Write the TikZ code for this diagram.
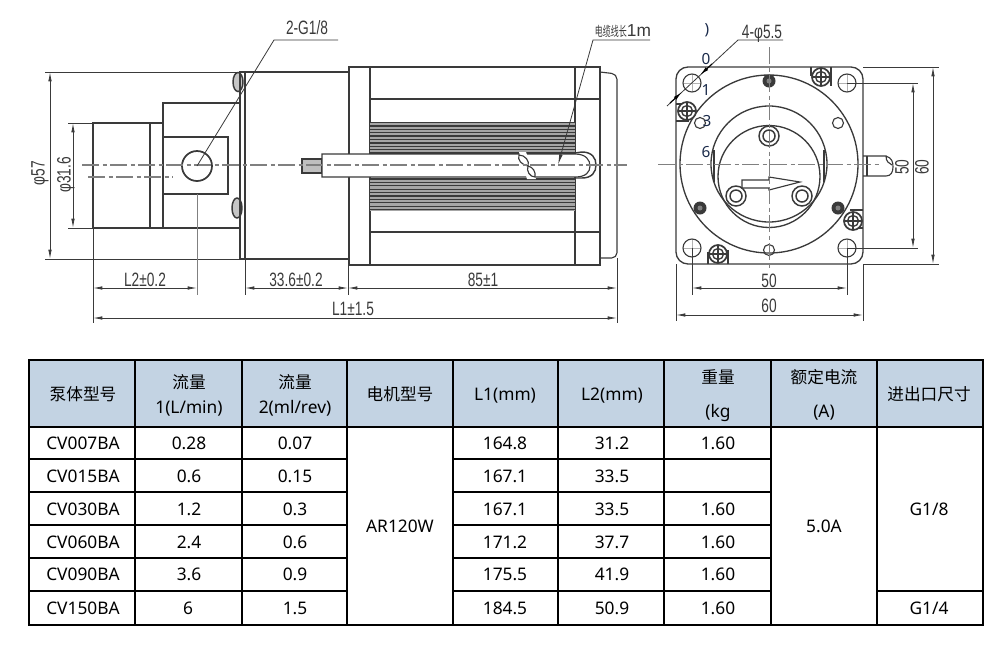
\documentclass[tikz,border=0pt]{standalone}
\usepackage{fontspec}
\usepackage{tikz}
\usetikzlibrary{arrows.meta}
\setmainfont{Noto Sans}
\newfontfamily\cjkfont{Noto Sans CJK SC}
\newfontfamily\dimfont[FakeStretch=0.71]{Liberation Sans}
\newfontfamily\wirefont{Liberation Sans}
\newfontfamily\wirecjk[FakeStretch=0.6]{Noto Sans CJK SC}
\definecolor{headblue}{HTML}{C3D3E3}
\definecolor{inkgray}{HTML}{3A3A3A}
\definecolor{stray}{HTML}{1A2A4A}

\begin{document}
\begin{tikzpicture}[x=0.75pt,y=-0.75pt,
  part/.style={draw=inkgray,line width=0.85pt},
  dimline/.style={draw=inkgray,line width=0.6pt,{Latex[length=7pt,width=2.6pt]}-{Latex[length=7pt,width=2.6pt]}},
  extline/.style={draw=inkgray,line width=0.6pt},
  leadertip/.style={draw=black,line width=0.8pt,-{Latex[length=7pt,width=2.8pt]}},
  axisline/.style={draw=gray,line width=0.8pt,dash pattern=on 13pt off 2.5pt on 3pt off 2.5pt},
  dimtext/.style={font=\dimfont\fontsize{14.5}{15}\selectfont,text=inkgray,anchor=mid,inner sep=0pt},
  dimflat/.style={dimtext,yshift=-2pt},
  marktext/.style={font=\fontsize{11.5}{13}\selectfont,text=stray,anchor=mid,inner sep=0pt,yshift=-2pt},
  tablecell/.style={font=\fontsize{13}{15}\selectfont,text=black,anchor=mid,inner sep=0pt,yshift=-2pt},
  headcell/.style={font=\cjkfont\fontsize{12.5}{15}\selectfont,text=black,anchor=mid,inner sep=0pt,yshift=-2pt},
  crossscrew/.pic={
    \draw[part,fill=white,line width=1.3pt] (0,0) circle (9);
    \draw[part,line width=1pt] (0,0) circle (5.5);
    \draw[inkgray,line width=1pt] (-8,0) -- (8,0) (0,-8) -- (0,8);
  },
  capscrew/.pic={
    \draw[part,fill=white,line width=1.1pt] (0,0) circle (10);
    \draw[part,line width=1.1pt] (0,0) circle (6);
  },
  blackscrew/.pic={
    \fill[inkgray] (0,0) circle (6.5);
    \fill[gray] (0,0) circle (2.5);
  },
  cornerhole/.pic={
    \draw[gray!60,line width=0.4pt] (-9,0) -- (9,0) (0,-9) -- (0,9);
    \draw[part] (0,0) circle (9);
  }]
\useasboundingbox (0,0) rectangle (1000,654);

% pump and front of motor
\draw[part] (93,123) rectangle (150,228);
\draw[part] (150,123) rectangle (163,228);
\draw[part] (163,103) rectangle (240,228);
\draw[part] (163,137) rectangle (228,194);
\draw[part,line width=1.3pt] (197,166) circle (15);
\draw[part] (240,72) rectangle (245,259);
\draw[part] (245,72) rectangle (349,259);
\draw[part,fill=gray!45,line width=1.1pt] (238,82) ellipse (5 and 9.5);
\draw[part,fill=gray!45,line width=1.1pt] (237,208) ellipse (5 and 10);
\draw[part] (240,72) -- (240,259);

% motor body
\draw[part] (349,67) rectangle (600,265);
\draw[part] (370,67) -- (370,265);
\draw[part] (575,67) -- (575,265);
\draw[part] (370,99) -- (600,99);
\draw[part] (370,232) -- (600,232);
\draw[part,rounded corners=4pt] (600,72) -- (617,74) -- (617,258) -- (600,258);
\fill[gray!70] (370,122) rectangle (575,155);
\fill[gray!70] (370,178) rectangle (575,211);
\foreach \finy in {122.5,125.9,...,155} {
  \draw[inkgray,line width=1pt] (370,\finy) -- (575,\finy);
}
\foreach \finy in {179,182.4,...,211} {
  \draw[inkgray,line width=1pt] (370,\finy) -- (575,\finy);
}

% shaft and cable
\draw[part,fill=gray!50] (302,159) rectangle (322,173);
\draw[part,fill=white] (322,154) -- (575,154) .. controls (586,154) and (590,160) .. (590,166) .. controls (590,172) and (586,177) .. (575,177) -- (322,177) -- cycle;
\draw[part,line width=1.1pt] (575,153) -- (582,152) .. controls (592,152) and (596,158) .. (596,165) .. controls (596,172) and (592,178) .. (582,178) -- (575,178);
\fill[white] (519,152) -- (526,152) -- (536,179) -- (527,179) -- cycle;
\draw[part,fill=white] (519,155) .. controls (517,160) and (522,165) .. (528,166) .. controls (530,161) and (525,155) .. (519,155) -- cycle;
\draw[part,fill=white] (528,166) .. controls (526,171) and (530,177) .. (535,177) .. controls (536,172) and (533,167) .. (528,166) -- cycle;

% side view axes
\draw[axisline] (82,165) -- (627,165);
\draw[axisline] (88,177) -- (173,177);

% side view dimensions
\draw[extline] (45,72) -- (240,72);
\draw[extline] (45,259) -- (240,259);
\draw[dimline] (50,72) -- (50,259);
\draw[extline] (68,123) -- (93,123);
\draw[extline] (68,228) -- (93,228);
\draw[dimline] (73,123) -- (73,228);
\draw[extline] (93,228) -- (93,323);
\draw[extline,draw=gray] (197,194) -- (197,295);
\draw[extline] (245,259) -- (245,295);
\draw[extline] (348,265) -- (348,295);
\draw[extline] (617,258) -- (617,323);
\draw[dimline] (93,288) -- (197,288);
\draw[dimline] (245,288) -- (348,288);
\draw[dimline] (348,288) -- (617,288);
\draw[dimline] (93,318) -- (617,318);
\node[dimtext,rotate=90] (dia57) at (41,173) {φ57};
\node[dimtext,rotate=90] (dia316) at (67,175) {φ31.6};
\node[dimflat] (lentwo) at (145,280) {L2±0.2};
\node[dimflat] (lenmid) at (296,280) {33.6±0.2};
\node[dimflat] (lenmotor) at (483,280) {85±1};
\node[dimflat] (lenone) at (353,309) {L1±1.5};

% side view leaders
\draw[extline] (338,40) -- (274,40) -- (197,166);
\node[dimflat] (porttext) at (307,28) {2-G1/8};
\draw[extline,-{Latex[length=8pt,width=2.6pt]}] (650,40) -- (593,40) -- (558,165);
\node[text=inkgray,anchor=mid,inner sep=0pt,yshift=-2pt] (wiretext) at (623,30) {\wirecjk\fontsize{10}{11}\selectfont 电缆线长\wirefont\fontsize{13}{14}\selectfont 1m};

% front view
\draw[part,line width=1pt,rounded corners=9pt] (676,67) rectangle (863,264);
\draw[part,line width=1pt] (769,164) circle (89);
\draw[part,line width=1pt] (769,164) circle (58);
\draw[part,line width=1pt] (769,176.5) circle (51);
\draw[part] (714,150) -- (714,182);
\draw[part] (824,150) -- (824,182);
\draw[part] (811,67) -- (811,76) (831,67) -- (831,86);
\draw[part] (676,121) -- (689,121) (676,104) -- (686,104);
\draw[part] (863,210) -- (850,210) (863,228) -- (850,228);
\draw[part] (708,264) -- (708,252) (728,264) -- (728,250);
\pic at (692,83) {cornerhole};
\pic at (847,83) {cornerhole};
\pic at (692,248) {cornerhole};
\pic at (847,248) {cornerhole};
\draw[part] (700,123) circle (5.5);
\draw[part] (838,123) circle (5.5);
\draw[part] (769,250) circle (5.5);
\pic at (769,81) {blackscrew};
\pic at (700,208) {blackscrew};
\pic at (838,208) {blackscrew};
\pic at (821,77) {crossscrew};
\pic at (687,111) {crossscrew};
\pic at (853,221) {crossscrew};
\pic at (718,254) {crossscrew};
\pic at (769,136) {capscrew};
\pic at (736,196) {capscrew};
\pic at (802,196) {capscrew};
\draw[part,fill=white] (742,180) -- (769,180) -- (769,177) -- (800,182) -- (769,190) -- (769,188) -- (742,188) -- cycle;
\draw[part] (863,156) -- (886,156) .. controls (892,158) and (893,162) .. (893,167) .. controls (893,172) and (891,176) .. (886,176) -- (863,176);
\draw[part] (867,156) -- (867,176);
\draw[part] (886,156) .. controls (886,162) and (889,163) .. (892,165);
\draw[axisline,line width=0.6pt] (658,164) -- (880,164);
\draw[axisline,line width=0.6pt] (769,47) -- (769,268);

% front view dimensions
\draw[extline] (863,67) -- (939,67);
\draw[extline] (863,264) -- (939,264);
\draw[extline] (847,83) -- (918,83);
\draw[extline] (847,248) -- (918,248);
\draw[dimline] (913,83) -- (913,248);
\draw[dimline] (933,67) -- (933,264);
\draw[extline] (692,248) -- (692,295);
\draw[extline] (847,248) -- (847,295);
\draw[extline] (676,264) -- (676,321);
\draw[extline] (863,264) -- (863,321);
\draw[dimline] (692,288) -- (847,288);
\draw[dimline] (676,315) -- (863,315);
\draw[extline] (783,40) -- (738,40) -- (667,106);
\draw[leadertip] (712,64) -- (700,75);
\draw[leadertip] (670,103) -- (682,92);
\node[dimflat] (holetext) at (762,32) {4-φ5.5};
\node[dimtext,rotate=90] (vfifty) at (905,167) {50};
\node[dimtext,rotate=90] (vsixty) at (925,167) {60};
\node[dimflat] (hfifty) at (769,281) {50};
\node[dimflat] (hsixty) at (769,306) {60};
\node[marktext] (markp) at (707,28) {)};
\node[marktext] (markz) at (706,58) {0};
\node[marktext] (marko) at (706,89) {1};
\node[marktext] (markt) at (707,120) {3};
\node[marktext] (marks) at (706,151) {6};

% table
\fill[headblue] (29,360) rectangle (983,427);
\draw[black,line width=2.2pt] (29,360) rectangle (983,625);
\draw[black,line width=2.2pt] (29,427) -- (983,427);
\draw[black,line width=2.2pt] (135,360) -- (135,625);
\draw[black,line width=2.2pt] (242,360) -- (242,625);
\draw[black,line width=2.2pt] (347,360) -- (347,625);
\draw[black,line width=2.2pt] (453,360) -- (453,625);
\draw[black,line width=2.2pt] (558,360) -- (558,625);
\draw[black,line width=2.2pt] (664,360) -- (664,625);
\draw[black,line width=2.2pt] (771,360) -- (771,625);
\draw[black,line width=2.2pt] (877,360) -- (877,625);
\draw[black,line width=2.2pt] (29,459) -- (347,459) (453,459) -- (771,459);
\draw[black,line width=2.2pt] (29,492) -- (347,492) (453,492) -- (771,492);
\draw[black,line width=2.2pt] (29,525) -- (347,525) (453,525) -- (771,525);
\draw[black,line width=2.2pt] (29,558) -- (347,558) (453,558) -- (771,558);
\draw[black,line width=2.2pt] (29,591) -- (347,591) (453,591) -- (771,591) (877,591) -- (983,591);

\node[headcell] (headmodel) at (83,394) {泵体型号};
\node[headcell] (headflowa) at (189,382) {流量};
\node[tablecell] (headflowb) at (189,407) {1(L/min)};
\node[headcell] (headrevb) at (295,382) {流量};
\node[tablecell] (headreva) at (295,407) {2(ml/rev)};
\node[headcell] (headmotor) at (400,394) {电机型号};
\node[tablecell] (headlone) at (505,394) {L1(mm)};
\node[tablecell] (headltwo) at (612,394) {L2(mm)};
\node[headcell] (headmass) at (718,377) {重量};
\node[tablecell] (headkg) at (718,411) {(kg};
\node[headcell] (headamp) at (824,377) {额定电流};
\node[tablecell] (heada) at (824,411) {(A)};
\node[headcell] (headport) at (929,394) {进出口尺寸};

\node[tablecell] (modela) at (83,443) {CV007BA};
\node[tablecell] (modelb) at (83,476) {CV015BA};
\node[tablecell] (modelc) at (83,509) {CV030BA};
\node[tablecell] (modeld) at (83,542) {CV060BA};
\node[tablecell] (modele) at (83,574) {CV090BA};
\node[tablecell] (modelf) at (83,608) {CV150BA};

\node[tablecell] (flowa) at (189,443) {0.28};
\node[tablecell] (flowb) at (189,476) {0.6};
\node[tablecell] (flowc) at (189,509) {1.2};
\node[tablecell] (flowd) at (189,542) {2.4};
\node[tablecell] (flowe) at (189,574) {3.6};
\node[tablecell] (flowf) at (188,608) {6};

\node[tablecell] (reva) at (295,443) {0.07};
\node[tablecell] (revb) at (295,476) {0.15};
\node[tablecell] (revc) at (295,509) {0.3};
\node[tablecell] (revd) at (295,542) {0.6};
\node[tablecell] (reve) at (295,574) {0.9};
\node[tablecell] (revf) at (295,608) {1.5};

\node[tablecell] (motor) at (400,526) {AR120W};

\node[tablecell] (lonea) at (505,443) {164.8};
\node[tablecell] (loneb) at (505,476) {167.1};
\node[tablecell] (lonec) at (505,509) {167.1};
\node[tablecell] (loned) at (505,542) {171.2};
\node[tablecell] (lonee) at (505,574) {175.5};
\node[tablecell] (lonef) at (505,608) {184.5};

\node[tablecell] (ltwoa) at (612,443) {31.2};
\node[tablecell] (ltwob) at (612,476) {33.5};
\node[tablecell] (ltwoc) at (612,509) {33.5};
\node[tablecell] (ltwod) at (612,542) {37.7};
\node[tablecell] (ltwoe) at (612,574) {41.9};
\node[tablecell] (ltwof) at (612,608) {50.9};

\node[tablecell] (massa) at (718,443) {1.60};
\node[tablecell] (massc) at (718,509) {1.60};
\node[tablecell] (massd) at (718,542) {1.60};
\node[tablecell] (masse) at (718,574) {1.60};
\node[tablecell] (massf) at (718,608) {1.60};

\node[tablecell] (amp) at (824,526) {5.0A};
\node[tablecell] (porta) at (929,509) {G1/8};
\node[tablecell] (portb) at (929,608) {G1/4};
\end{tikzpicture}
\end{document}
